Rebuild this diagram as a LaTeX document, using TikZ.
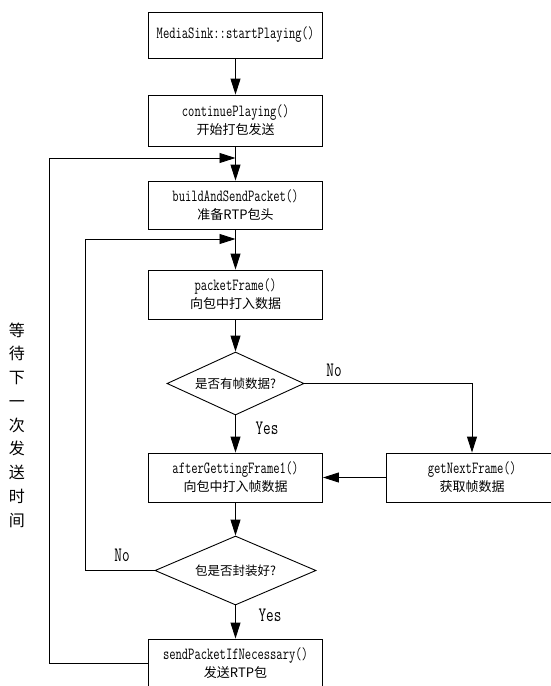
\documentclass[tikz,border=0pt]{standalone}
\usepackage{fontspec}
\setmainfont{Latin Modern Mono}[FakeStretch=0.72]
\newfontfamily\cjk{Noto Sans CJK SC}
\newcommand\zh[1]{{\cjk\fontsize{13}{18}\selectfont #1}}
\usetikzlibrary{shapes.geometric,arrows.meta}
\begin{document}
\begin{tikzpicture}[x=1pt,y=-1pt,
  box/.style={draw,line width=0.9pt,minimum width=174pt,minimum height=49pt,inner sep=0pt,align=center,font=\fontsize{17}{18}\selectfont},
  dec/.style={draw,line width=0.9pt,diamond,inner sep=0pt,font=\cjk\fontsize{12.5}{15}\selectfont},
  arr/.style={line width=0.9pt,-{Triangle[width=10pt,length=16pt]}},
  lab/.style={font=\fontsize{20.5}{20}\selectfont,inner sep=0pt}]
\useasboundingbox (0,0) rectangle (551,686);
\clip (0,0) rectangle (551,686);
\node[box,minimum height=46pt] (b1) at (235.5,35) {MediaSink::startPlaying()};
\node[box,minimum height=51pt] (b2) at (235.5,120.5) {continuePlaying()\\\zh{开始打包发送}};
\node[box,minimum height=48pt] (b3) at (235.5,205) {buildAndSendPacket()\\\zh{准备RTP包头}};
\node[box] (b4) at (235.5,294.5) {packetFrame()\\\zh{向包中打入数据}};
\node[dec,minimum width=137pt,minimum height=63pt,aspect=2.17] (d1) at (235.5,383.5) {是否有帧数据?};
\node[box] (b5) at (235.5,477.5) {afterGettingFrame1()\\\zh{向包中打入帧数据}};
\node[box,minimum width=172pt] (b6) at (472,477.5) {getNextFrame()\\\zh{获取帧数据}};
\node[dec,minimum width=161pt,minimum height=69pt,aspect=2.33] (d2) at (235.5,570.5) {包是否封装好?};
\node[box] (b7) at (235.5,663.5) {sendPacketIfNecessary()\\\zh{发送RTP包}};
\coordinate (j1) at (235.5,158);
\coordinate (j2) at (235.5,239);
\coordinate (o1) at (49,158);
\coordinate (o2) at (85,239);
\draw[arr] (b1.south) -- (b2.north);
\draw[arr] (b2.south) -- (b3.north);
\draw[arr] (b3.south) -- (b4.north);
\draw[arr] (b4.south) -- (d1.north);
\draw[arr] (d1.south) -- (b5.north);
\draw[arr] (d1.east) -| (b6.north);
\draw[arr] (b6.west) -- (b5.east);
\draw[arr] (b5.south) -- (d2.north);
\draw[arr] (d2.south) -- (b7.north);
\draw[arr] (b7.west) -| (o1) -- (j1);
\draw[arr] (d2.west) -| (o2) -- (j2);
\node[lab] (no1) at (334,370) {No};
\node[lab] (yes1) at (267,428) {Yes};
\node[lab] (no2) at (122,555) {No};
\node[lab] (yes2) at (270,615) {Yes};
\node[align=center,inner sep=0pt,font=\cjk\fontsize{16}{23.75}\selectfont] (wait) at (17,425) {等\\待\\下\\一\\次\\发\\送\\时\\间};
\end{tikzpicture}
\end{document}
